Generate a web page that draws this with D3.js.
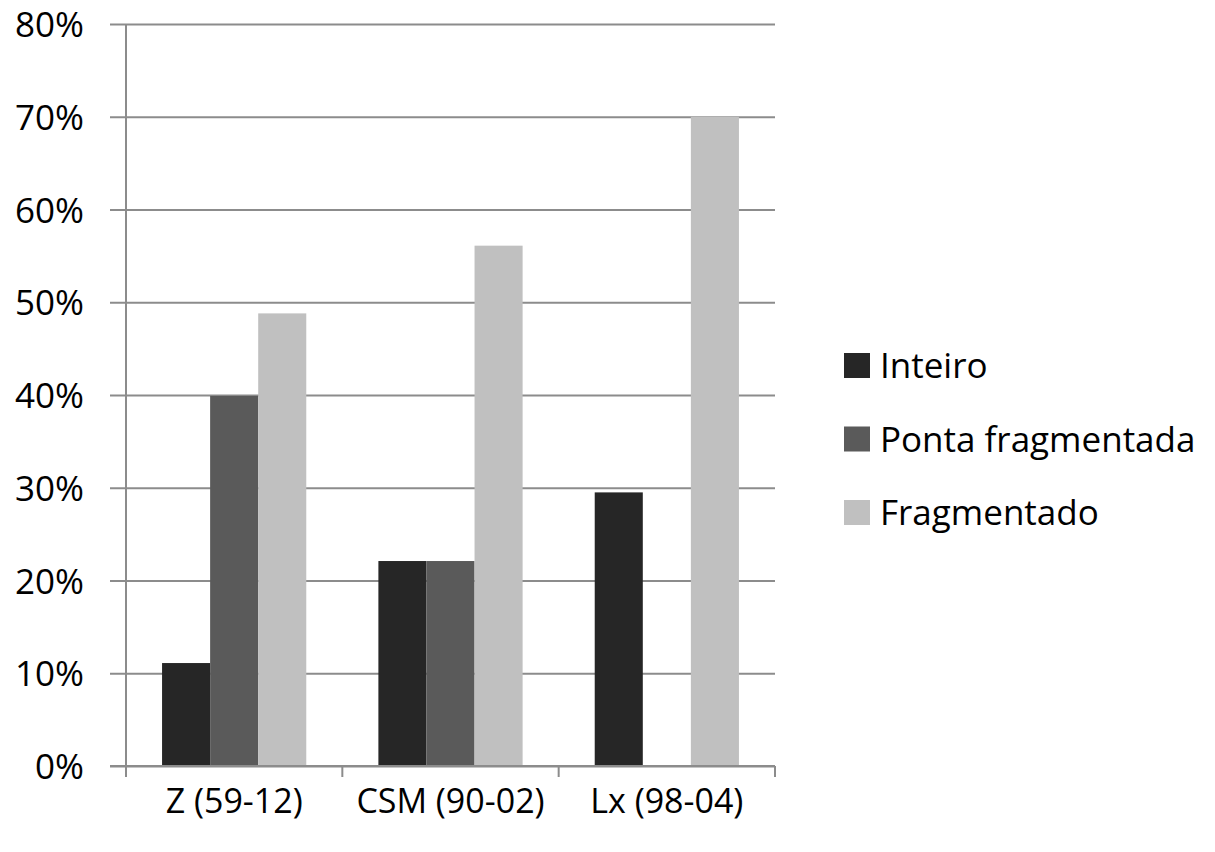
<!DOCTYPE html>
<html>
<head>
<meta charset="utf-8">
<script src="https://cdn.jsdelivr.net/npm/d3@7"></script>
<style>
  html, body { margin: 0; padding: 0; background: #ffffff; }
  svg { display: block; }
  text { font-family: "Open Sans", "DejaVu Sans", sans-serif; fill: #000; }
</style>
</head>
<body>
<svg id="chart" width="1215" height="852"></svg>
<script>
// Share of pieces by condition, per collection
const categories = ["Z (59-12)", "CSM (90-02)", "Lx (98-04)"];
const seriesNames = ["Inteiro", "Ponta fragmentada", "Fragmentado"];
const inteiro = [0.111, 0.221, 0.295];
const pontaFragmentada = [0.399, 0.221, 0];
const fragmentado = [0.488, 0.561, 0.70];
const yTicks = [0, 0.1, 0.2, 0.3, 0.4, 0.5, 0.6, 0.7, 0.8];
const seriesColors = ["#262626", "#5a5a5a", "#c0c0c0"];

const seriesValues = [inteiro, pontaFragmentada, fragmentado];
const rows = categories.map((c, i) => ({
  category: c,
  values: seriesNames.map((s, j) => ({ series: s, value: seriesValues[j][i] }))
}));

const svg = d3.select("#chart");
const plot = { left: 126, right: 775, top: 24, bottom: 766 };
const axisColor = "#8c8c8c";

const y = d3.scaleLinear().domain([0, 0.8]).range([plot.bottom, plot.top]);
const x0 = d3.scaleBand().domain(categories).range([plot.left, plot.right]).padding(0);
// gap between clusters equals 1.5 bar widths
const x1 = d3.scaleBand().domain(seriesNames).range([0, x0.bandwidth()])
  .paddingInner(0).paddingOuter(0.75);
const color = d3.scaleOrdinal().domain(seriesNames).range(seriesColors);

// Horizontal gridlines with left tick marks
const yAxis = d3.axisLeft(y)
  .tickValues(yTicks)
  .tickSize(-(plot.right - plot.left))
  .tickSizeOuter(0)
  .tickFormat(d3.format(".0%"));

const gy = svg.append("g")
  .attr("transform", `translate(${plot.left},0)`)
  .call(yAxis);
gy.select(".domain").remove();
gy.selectAll(".tick line")
  .attr("x1", -16)
  .attr("stroke", axisColor)
  .attr("stroke-width", 2);
gy.selectAll(".tick text")
  .attr("x", -42)
  .attr("dy", "0.36em")
  .attr("text-anchor", "end")
  .style("font-size", "35px")
  .style("font-family", "'Open Sans', sans-serif")
  .attr("fill", "#000");

// Vertical axis line
svg.append("line")
  .attr("x1", plot.left).attr("x2", plot.left)
  .attr("y1", plot.top).attr("y2", plot.bottom)
  .attr("stroke", axisColor).attr("stroke-width", 2);

// Bars
const groups = svg.append("g").selectAll("g")
  .data(rows)
  .join("g")
  .attr("transform", d => `translate(${x0(d.category)},0)`);

groups.selectAll("rect")
  .data(d => d.values)
  .join("rect")
  .attr("x", d => x1(d.series))
  .attr("width", x1.bandwidth())
  .attr("y", d => y(d.value))
  .attr("height", d => y(0) - y(d.value))
  .attr("fill", d => color(d.series));

// Category axis with boundary ticks
const bottom = svg.append("g");
bottom.append("line")
  .attr("x1", plot.left - 16).attr("x2", plot.right)
  .attr("y1", plot.bottom).attr("y2", plot.bottom)
  .attr("stroke", axisColor).attr("stroke-width", 2);

const boundaries = categories.map(c => x0(c)).concat([x0(categories[categories.length - 1]) + x0.bandwidth()]);
bottom.selectAll("line.bound")
  .data(boundaries)
  .join("line")
  .attr("class", "bound")
  .attr("x1", d => d).attr("x2", d => d)
  .attr("y1", plot.bottom).attr("y2", plot.bottom + 11)
  .attr("stroke", axisColor).attr("stroke-width", 2);

bottom.selectAll("text")
  .data(categories)
  .join("text")
  .attr("x", d => x0(d) + x0.bandwidth() / 2)
  .attr("y", 813)
  .attr("text-anchor", "middle")
  .style("font-size", "34px")
  .text(d => d);

// Legend
const legend = svg.append("g").attr("transform", "translate(844,353)");
const item = legend.selectAll("g")
  .data(seriesNames)
  .join("g")
  .attr("transform", (d, i) => `translate(0,${i * 73.5})`);
item.append("rect")
  .attr("width", 26).attr("height", 25)
  .attr("fill", d => color(d));
item.append("text")
  .attr("x", 36)
  .attr("y", 12.5)
  .attr("dy", "0.36em")
  .style("font-size", "35px")
  .text(d => d);
</script>
</body>
</html>
